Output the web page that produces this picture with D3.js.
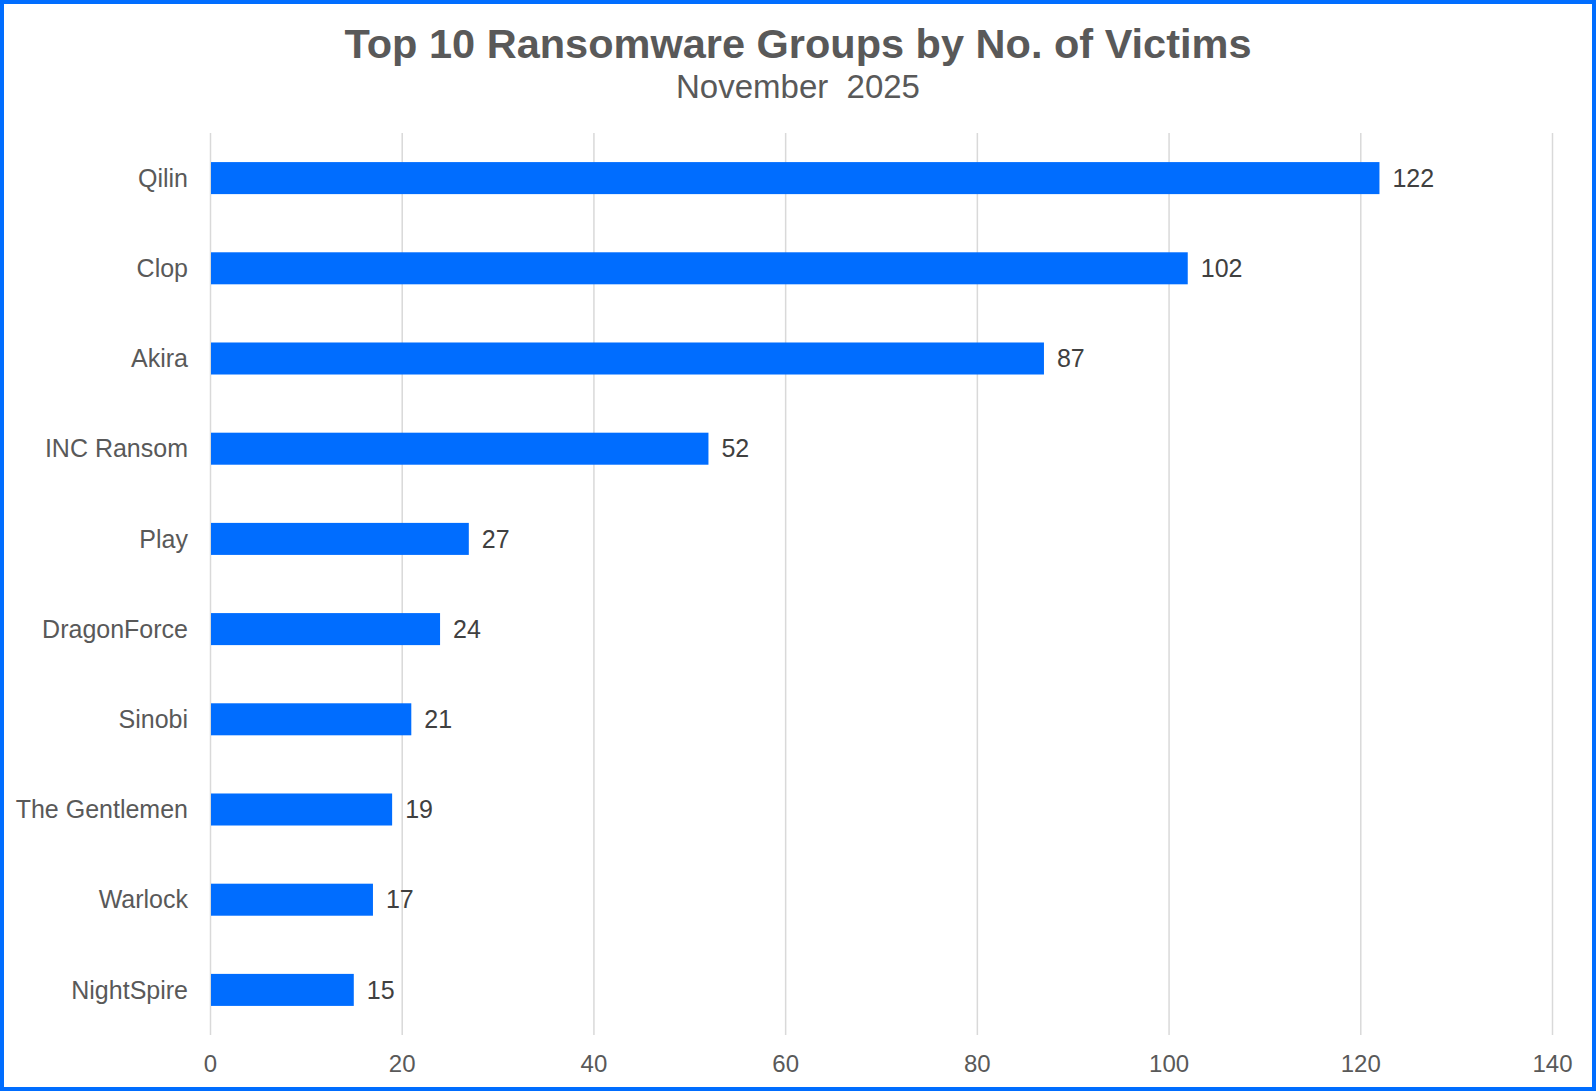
<!DOCTYPE html>
<html>
<head>
<meta charset="utf-8">
<title>Top 10 Ransomware Groups by No. of Victims</title>
<style>
body { margin: 0; background: #fff; }
text { font-family: Arial, "Liberation Sans", sans-serif; }
.title { fill: #595959; font-weight: bold; font-size: 41.5px; }
.subtitle { fill: #595959; font-size: 33px; white-space: pre; }
.cat { fill: #595959; font-size: 25px; }
.val { fill: #404040; font-size: 25px; }
.axis text { fill: #595959; font-size: 24px; font-family: Arial, "Liberation Sans", sans-serif; }
.axis line { stroke: #d9d9d9; stroke-width: 1.5px; }
.axis .domain { display: none; }
</style>
</head>
<body>
<svg width="1596" height="1091"></svg>
<script src="https://cdnjs.cloudflare.com/ajax/libs/d3/7.8.5/d3.min.js"></script>
<script>
// data
var groups = ["Qilin", "Clop", "Akira", "INC Ransom", "Play", "DragonForce", "Sinobi", "The Gentlemen", "Warlock", "NightSpire"];
var victims = [122, 102, 87, 52, 27, 24, 21, 19, 17, 15];
var xTicks = [0, 20, 40, 60, 80, 100, 120, 140];

var barColor = "#006dff";

var svg = d3.select("svg");

// outer frame
svg.append("rect")
  .attr("x", 2).attr("y", 2)
  .attr("width", 1592).attr("height", 1087)
  .attr("fill", "none")
  .attr("stroke", barColor)
  .attr("stroke-width", 4);

var x = d3.scaleLinear().domain([0, 140]).range([210, 1552]);
var y = d3.scaleBand().domain(groups).range([133, 1035])
  .paddingInner(0.645).paddingOuter(0.3225);

// gridlines + tick labels
svg.append("g")
  .attr("class", "axis")
  .attr("transform", "translate(0,1035)")
  .call(d3.axisBottom(x).tickValues(xTicks).tickSizeInner(-902).tickSizeOuter(0).tickPadding(20));

svg.selectAll(".bar")
  .data(groups)
  .enter()
  .append("rect")
  .attr("class", "bar")
  .attr("x", x(0) + 1)
  .attr("y", function(d) { return y(d); })
  .attr("width", function(d, i) { return x(victims[i]) - x(0) - 1; })
  .attr("height", y.bandwidth())
  .attr("fill", barColor);

svg.selectAll(".cat")
  .data(groups)
  .enter()
  .append("text")
  .attr("class", "cat")
  .attr("x", 188)
  .attr("y", function(d) { return y(d) + y.bandwidth() / 2; })
  .attr("dy", "0.35em")
  .attr("text-anchor", "end")
  .text(function(d) { return d; });

svg.selectAll(".val")
  .data(groups)
  .enter()
  .append("text")
  .attr("class", "val")
  .attr("x", function(d, i) { return x(victims[i]) + 13; })
  .attr("y", function(d) { return y(d) + y.bandwidth() / 2; })
  .attr("dy", "0.35em")
  .text(function(d, i) { return victims[i]; });

svg.append("text")
  .attr("class", "title")
  .attr("x", 798).attr("y", 58)
  .attr("text-anchor", "middle")
  .text("Top 10 Ransomware Groups by No. of Victims");

svg.append("text")
  .attr("class", "subtitle")
  .attr("x", 798).attr("y", 98)
  .attr("text-anchor", "middle")
  .text("November  2025");
</script>
</body>
</html>
